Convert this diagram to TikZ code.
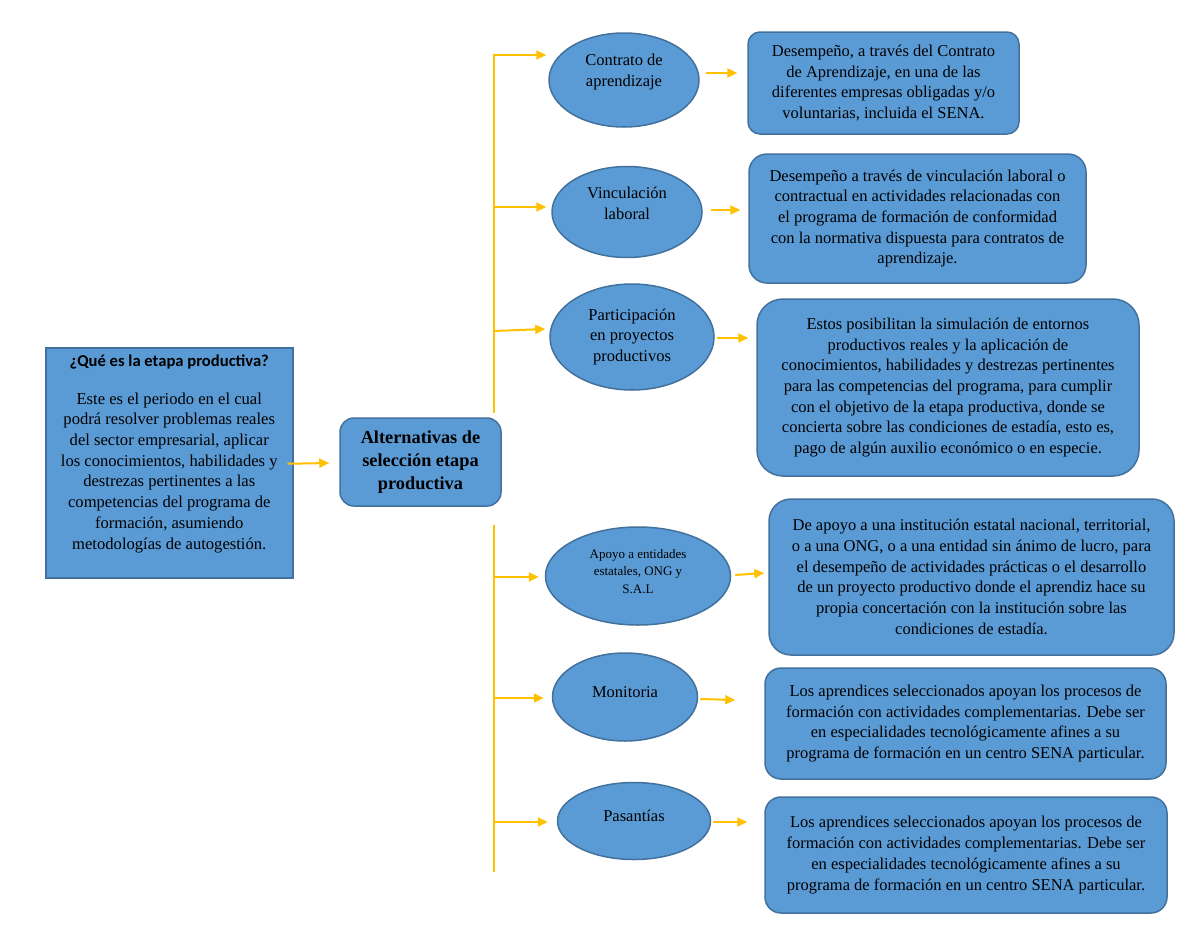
\documentclass[tikz,border=0pt]{standalone}
\usepackage{fontspec}
\setmainfont{Liberation Serif}
\newfontfamily\titlefnt{Carlito}
\usetikzlibrary{shapes.geometric,arrows.meta,calc}
\definecolor{boxfill}{HTML}{5B9BD5}
\definecolor{boxline}{HTML}{41719C}
\definecolor{arrowc}{HTML}{FFC000}
\tikzset{
  body/.style={font=\fontsize{16.5}{20.7}\selectfont},
  rbox/.style={draw=boxline, fill=boxfill, line width=1.5pt, rounded corners=18pt,
    align=center, inner sep=0pt, body},
  ell/.style={ellipse, draw=boxline, fill=boxfill, line width=1.5pt, inner sep=0pt,
    align=center, body},
  arr/.style={draw=arrowc, line width=2pt, -{Triangle[length=10pt,width=9pt]}},
  trunk/.style={draw=arrowc, line width=2pt},
}
\begin{document}
\begin{tikzpicture}[x=1pt,y=-1pt]
\useasboundingbox (0,0) rectangle (1200,927);

% left box
\node[draw=boxline, fill=boxfill, line width=1.5pt, inner sep=0pt, anchor=north west] (L) at (45,347)
 {\parbox[c][230pt][t]{247pt}{\centering\vspace{7pt}%
 {\titlefnt\bfseries\fontsize{16.6}{19}\selectfont ¿Qué es la etapa productiva?}\par\vspace{17pt}%
 {\fontsize{16.6}{20.7}\selectfont Este es el periodo en el cual\\
 podrá resolver problemas reales\\
 del sector empresarial, aplicar\\
 los conocimientos, habilidades y\\
 destrezas pertinentes a las\\
 competencias del programa de\\
 formación, asumiendo\\
 metodologías de autogestión.\par}}};

% center box
\node[rbox, rounded corners=14pt, minimum width=161pt, minimum height=88pt,
  font=\bfseries\fontsize{18.3}{23}\selectfont] (C) at (420.5,462)
  {Alternativas de\\selección etapa\\productiva};

\draw[arr] ($(L.east)+(-6,1)$) -- ($(C.west)+(-10,1)$);

% ellipses
\node[ell, minimum width=150pt, minimum height=94pt, text depth=20pt] (E1) at (624,80) {Contrato de\\aprendizaje};
\node[ell, minimum width=150pt, minimum height=91pt, text depth=18pt] (E2) at (627,212) {Vinculación\\laboral};
\node[ell, minimum width=164pt, minimum height=106pt] (E3) at (632,337) {Participación\\en proyectos\\productivos};
\node[ell, minimum width=185pt, minimum height=98pt, text depth=10pt, font=\fontsize{13}{17.5}\selectfont] (E4) at (638,576) {Apoyo a entidades\\estatales, ONG y\\S.A.L};
\node[ell, minimum width=145pt, minimum height=88pt, text depth=10pt] (E5) at (625,697) {Monitoria};
\node[ell, minimum width=153pt, minimum height=77pt, text depth=10pt] (E6) at (634,821) {Pasantías};

% right boxes
\node[rbox, rounded corners=12pt, minimum width=271pt, minimum height=102pt] (B1) at (883.5,83)
 {Desempeño, a través del Contrato\\de Aprendizaje, en una de las\\diferentes empresas obligadas y/o\\voluntarias, incluida el SENA.};
\node[rbox, minimum width=337pt, minimum height=129pt] (B2) at (917.5,218.5)
 {Desempeño a través de vinculación laboral o\\contractual en actividades relacionadas con\\el programa de formación de conformidad\\con la normativa dispuesta para contratos de\\aprendizaje.};
\node[rbox, rounded corners=26pt, minimum width=382pt, minimum height=177pt] (B3) at (948,387.5)
 {Estos posibilitan la simulación de entornos\\productivos reales y la aplicación de\\conocimientos, habilidades y destrezas pertinentes\\para las competencias del programa, para cumplir\\con el objetivo de la etapa productiva, donde se\\concierta sobre las condiciones de estadía, esto es,\\pago de algún auxilio económico o en especie.};
\node[rbox, rounded corners=22pt, minimum width=405pt, minimum height=156pt] (B4) at (971.5,577)
 {De apoyo a una institución estatal nacional, territorial,\\o a una ONG, o a una entidad sin ánimo de lucro, para\\el desempeño de actividades prácticas o el desarrollo\\de un proyecto productivo donde el aprendiz hace su\\propia concertación con la institución sobre las\\condiciones de estadía.};
\node[rbox, rounded corners=16pt, minimum width=401pt, minimum height=111pt] (B5) at (965.5,723.5)
 {Los aprendices seleccionados apoyan los procesos de\\formación con actividades complementarias. Debe ser\\en especialidades tecnológicamente afines a su\\programa de formación en un centro SENA particular.};
\node[rbox, rounded corners=16pt, minimum width=402pt, minimum height=116pt] (B6) at (966,855)
 {Los aprendices seleccionados apoyan los procesos de\\formación con actividades complementarias. Debe ser\\en especialidades tecnológicamente afines a su\\programa de formación en un centro SENA particular.};

% trunk coordinates
\coordinate (t1) at (494,413);
\coordinate (b1) at (494,55);
\coordinate (b2) at (494,207);
\coordinate (b3) at (494,331);
\coordinate (t3) at (494,525);
\coordinate (b4) at (494,577);
\coordinate (b5) at (494,698);
\coordinate (b6) at (494,822);
\coordinate (t4) at (494,872);

\draw[arr] (t1) -- (b1) -- ($(b1 -| E1.west)+(-2,0)$);
\draw[arr] (b2) -- ($(b2 -| E2.west)+(-5,0)$);
\draw[arr] (b3) -- ($(E3.west)+(-4,-8)$);
\draw[trunk] (t3) -- (t4);
\draw[arr] (b4) -- ($(b4 -| E4.west)+(-6,0)$);
\draw[arr] (b5) -- ($(b5 -| E5.west)+(-8,0)$);
\draw[arr] (b6) -- ($(b6 -| E6.west)+(-9,0)$);

% ellipse to box arrows
\draw[arr] ($(E1.east)+(6,-7)$) -- ($(E1.east -| B1.west)+(-10,-7)$);
\draw[arr] ($(E2.east)+(8,-2)$) -- ($(E2.east -| B2.west)+(-8,-2)$);
\draw[arr] ($(E3.east)+(2,1)$) -- ($(E3.east -| B3.west)+(-8,1)$);
\draw[arr] ($(E4.east)+(4,-1)$) -- ($(E4.east -| B4.west)+(-4,-3)$);
\draw[arr] ($(E5.east)+(2,2)$) -- ($(E5.east -| B5.west)+(-29,3)$);
\draw[arr] ($(E6.east)+(2,1)$) -- ($(E6.east -| B6.west)+(-17,1)$);
\end{tikzpicture}
\end{document}
